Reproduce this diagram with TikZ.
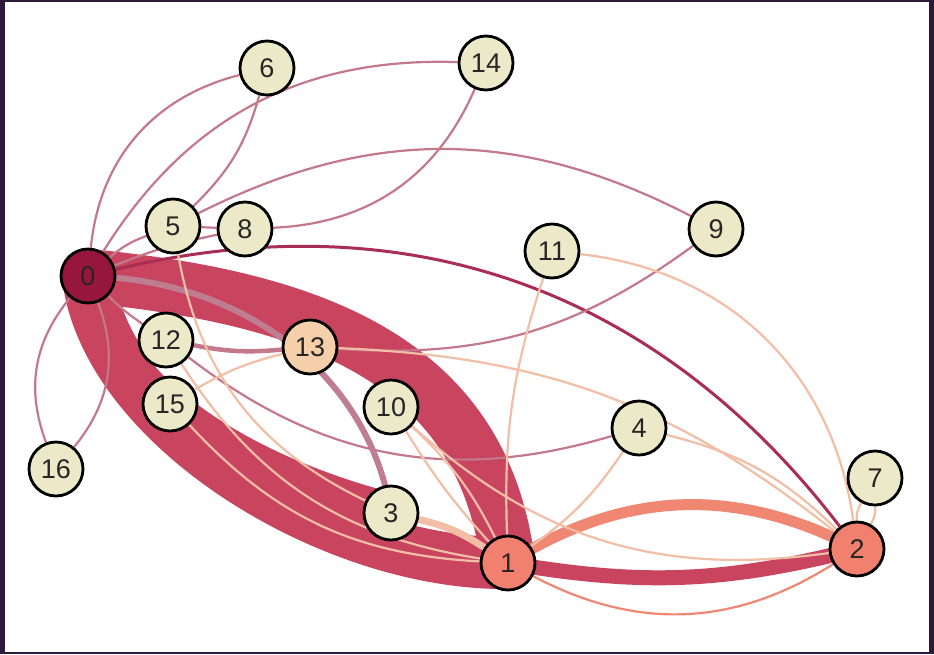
\documentclass[tikz,border=0pt]{standalone}
\usepackage{fontspec}
\setmainfont{Liberation Sans}
\usetikzlibrary{backgrounds}
\definecolor{bgpurple}{rgb}{0.176,0.098,0.235}
\definecolor{nodecream}{rgb}{0.925,0.914,0.784}
\definecolor{zerored}{rgb}{0.592,0.086,0.247}
\definecolor{onesalmon}{rgb}{0.949,0.502,0.431}
\definecolor{peachfill}{rgb}{0.961,0.812,0.667}
\definecolor{bandred}{rgb}{0.784,0.267,0.373}
\definecolor{mauve}{rgb}{0.765,0.471,0.545}
\definecolor{darkred}{rgb}{0.667,0.176,0.333}
\definecolor{peach}{rgb}{0.949,0.745,0.647}
\definecolor{salmon}{rgb}{0.941,0.529,0.451}
\definecolor{greymauve}{rgb}{0.745,0.490,0.569}

\begin{document}
\begin{tikzpicture}[line join=round,x=1pt,y=-1pt,
	vtx/.style={circle,draw=black,line width=2.8pt,fill=nodecream,minimum size=54pt,inner sep=0pt,
		font=\fontsize{27}{27}\selectfont,text=black!85},
	lnk/.style={line width=2.2pt}]
	\node[vtx,fill=zerored] (n0) at (88,276) {0};
	\node[vtx,fill=onesalmon] (n1) at (508,563) {1};
	\node[vtx,fill=onesalmon] (n2) at (857,549) {2};
	\node[vtx] (n3) at (391,513) {3};
	\node[vtx] (n4) at (639,428) {4};
	\node[vtx] (n5) at (173,226) {5};
	\node[vtx] (n6) at (267,68) {6};
	\node[vtx] (n7) at (875,478) {7};
	\node[vtx] (n8) at (245,229) {8};
	\node[vtx] (n9) at (716,229) {9};
	\node[vtx] (n10) at (391,407) {10};
	\node[vtx] (n11) at (552,251) {11};
	\node[vtx] (n12) at (166,340) {12};
	\node[vtx,fill=peachfill] (n13) at (310,347) {13};
	\node[vtx] (n14) at (486,63) {14};
	\node[vtx] (n15) at (170,404) {15};
	\node[vtx] (n16) at (56,469) {16};
	\begin{scope}[on background layer]
	\fill[bgpurple] (0,0) rectangle (934,654);
	\fill[white] (5,2) rectangle (929,652);
	% heavy flows
	\draw[bandred,line width=54pt] (n0.center) .. controls (318,298) and (483,363) .. (n1.center);
	\draw[bandred,line width=52pt] (n0.center) .. controls (105,425) and (330,565) .. (n1.center);
	\draw[bandred,line width=40pt] (n0.center) .. controls (105,400) and (260,480) .. (n3.center);
	\draw[bandred,line width=15pt] (n1.center) to[bend right=12] (n2.center);
	\draw[salmon,line width=11pt] (n1.center) to[bend left=30] (n2.center);
	\draw[greymauve,line width=6pt] (n0.center) .. controls (250,280) and (370,380) .. (n3.center);
	\draw[peach,line width=7pt] (n3) to[bend left=10] (n1);
	\draw[mauve,line width=4.5pt] (n12) to[bend right=8] (n13);
	\draw[darkred,line width=3pt] (n0) to[bend left=33] (n2);
	% light links
	\foreach \a/\b/\bend in {0/6/35,0/14/30,0/5/10,0/8/5,5/8/0,6/5/15,5/9/27,14/8/32,13/9/-20,
		4/12/27,0/12/-5,0/16/-30,16/0/-30}
	\draw[mauve,lnk] (n\a) to[bend left=\bend] (n\b);
	\foreach \a/\b/\bend in {11/1/-10,11/2/38,4/1/10,4/2/15,13/2/18,15/13/8,10/1/10,10/1/-5,
		10/2/-25,5/3/-27,12/1/-24,15/1/-22,2/7/15,7/2/15}
	\draw[peach,lnk] (n\a) to[bend left=\bend] (n\b);
	\draw[salmon,lnk] (n1) to[bend right=30] (n2);
	\end{scope}
\end{tikzpicture}
\end{document}
